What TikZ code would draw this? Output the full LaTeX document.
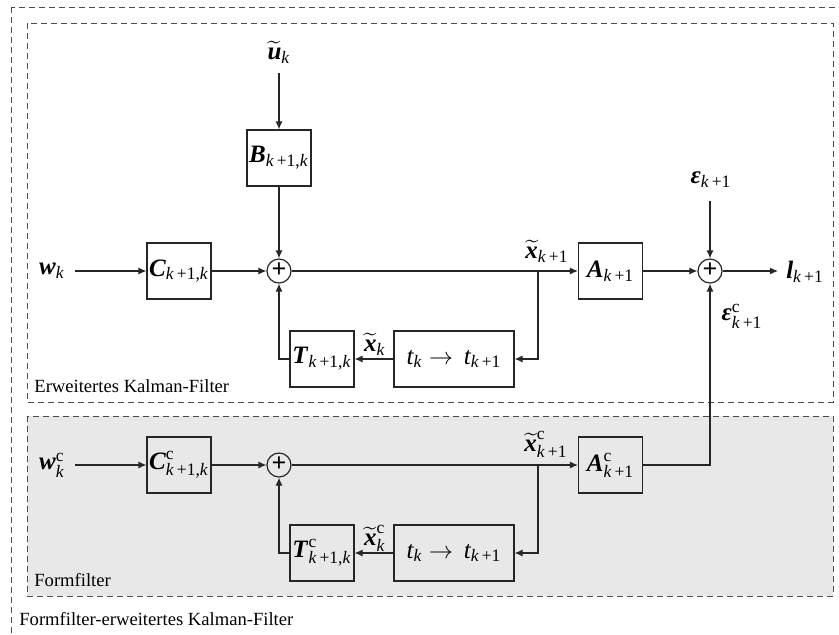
\documentclass[tikz,border=0pt]{standalone}
\usepackage{amsmath}
\usepackage{fontspec}
\setmainfont{Liberation Serif}
\usetikzlibrary{arrows.meta,positioning}

\definecolor{ffgray}{HTML}{E8E8E8}
\newcommand{\vb}[1]{\textbf{\textit{#1}}}
\newcommand{\ix}[1]{\textit{#1}}
\newcommand{\kk}{\text{\ix{k}}}
\newcommand{\kpo}{\text{\ix{k}\,+1}}
\newcommand{\kpok}{\text{\ix{k}\,+1,\ix{k}}}
\newcommand{\supc}{\text{c}}

\begin{document}
\begin{tikzpicture}[x=0.5pt,y=-0.5pt,>={Latex[length=4pt,width=3.5pt]},
  blk/.style={draw=black!85,line width=0.6pt,minimum width=32pt,minimum height=28pt,inner sep=0pt,font=\fontsize{12.5}{14}\selectfont},
  wideblk/.style={blk,minimum width=60pt},
  sumnode/.style={draw=black!85,circle,line width=0.6pt,minimum size=12pt,inner sep=0pt,font=\bfseries\fontsize{13}{13}\selectfont},
  sig/.style={inner sep=1pt,font=\fontsize{12.5}{14}\selectfont},
  areatext/.style={anchor=west,inner sep=0pt,font=\fontsize{9.3}{11}\selectfont},
  area/.style={draw=black!70,dash pattern=on 3pt off 2pt,line width=0.5pt},
  line/.style={line width=0.6pt,draw=black!85}]
\useasboundingbox (0,0) rectangle (839,634);
\clip (0,0) rectangle (839,634);

% areas
\draw[area] (11,7) rectangle (860,660);
\draw[area,fill=white] (27,23) rectangle (833,402);
\draw[area,fill=ffgray] (27,416) rectangle (833,596);
\node[areatext] (ekf) at (34,386) {Erweitertes Kalman-Filter};
\node[areatext] (ff) at (34,580) {Formfilter};
\node[areatext] (ffekf) at (19,619) {Formfilter-erweitertes Kalman-Filter};

% extended Kalman filter
\node[sig] (wk) at (52,271) {$\vb{w}_{\kk}$};
\node[sig] (uk) at (279,52) {$\widetilde{\vb{u}}_{\kk}$};
\node[blk] (C) at (179,271) {$\vb{C}_{\kpok}$};
\node[blk] (B) at (279,158) {$\vb{B}_{\kpok}$};
\node[sumnode] (s1) at (279,271) {\raisebox{0.4pt}{+}};
\node[blk] (A) at (610.5,271) {$\vb{A}_{\kpo}$};
\node[sumnode] (s2) at (710,271) {\raisebox{0.4pt}{+}};
\node[blk] (T) at (322,359) {$\vb{T}_{\kpok}$};
\node[wideblk] (tt) at (454,359) {$\ix{t}_{\kk}\rightarrow\,\ix{t}_{\kpo}$};
\node[sig] (xk1) at (547,251) {$\widetilde{\vb{x}}_{\kpo}$};
\node[sig] (xk) at (375,344) {$\widetilde{\vb{x}}_{\kk}$};
\node[sig] (eps) at (711,180) {$\vb{ε}_{\kpo}$};
\node[sig] (lk) at (805,272) {$\vb{l}_{\kpo}$};
\node[sig] (epsc) at (742,316) {$\vb{ε}^{\supc}_{\kpo}$};
\coordinate (win) at (75,271);
\coordinate (uin) at (279,73);
\coordinate (ein) at (710,201);
\coordinate (lout) at (778,271);
\coordinate (br1) at (538,271);

\draw[line,->] (win) -- (C.west);
\draw[line,->] (C.east) -- (s1.west);
\draw[line,->] (uin) -- (B.north);
\draw[line,->] (B.south) -- (s1.north);
\draw[line,->] (s1.east) -- (A.west);
\draw[line,->] (br1) |- (tt.east);
\draw[line,->] (tt.west) -- (T.east);
\draw[line,->] (T.west) -| (s1.south);
\draw[line,->] (A.east) -- (s2.west);
\draw[line,->] (ein) -- (s2.north);
\draw[line,->] (s2.east) -- (lout);

% shaping filter
\node[sig] (wc) at (52,465) {$\vb{w}^{\supc}_{\kk}$};
\node[blk] (Cc) at (179,465) {$\vb{C}^{\supc}_{\kpok}$};
\node[sumnode] (s1c) at (279,465) {\raisebox{0.4pt}{+}};
\node[blk] (Ac) at (610.5,465) {$\vb{A}^{\supc}_{\kpo}$};
\node[blk] (Tc) at (322,553) {$\vb{T}^{\supc}_{\kpok}$};
\node[wideblk] (ttc) at (454,553) {$\ix{t}_{\kk}\rightarrow\,\ix{t}_{\kpo}$};
\node[sig] (xc1) at (546,444) {$\widetilde{\vb{x}}^{\supc}_{\kpo}$};
\node[sig] (xkc) at (375,538) {$\widetilde{\vb{x}}^{\supc}_{\kk}$};
\coordinate (wcin) at (75,465);
\coordinate (br2) at (538,465);

\draw[line,->] (wcin) -- (Cc.west);
\draw[line,->] (Cc.east) -- (s1c.west);
\draw[line,->] (s1c.east) -- (Ac.west);
\draw[line,->] (br2) |- (ttc.east);
\draw[line,->] (ttc.west) -- (Tc.east);
\draw[line,->] (Tc.west) -| (s1c.south);
\draw[line,->] (Ac.east) -| (s2.south);
\end{tikzpicture}
\end{document}
